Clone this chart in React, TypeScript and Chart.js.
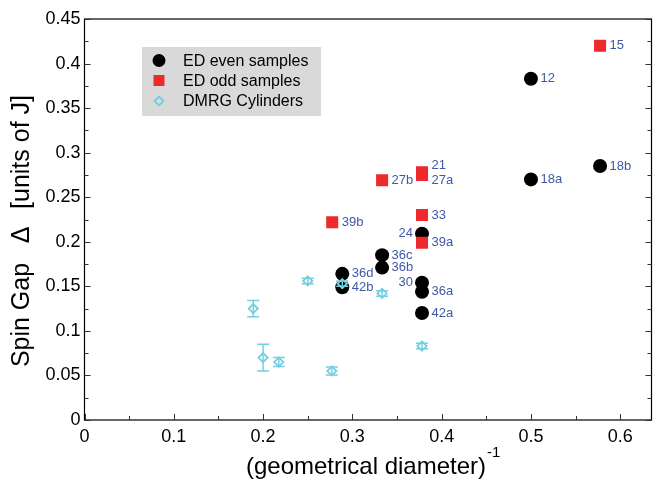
import React, { useEffect, useRef } from "react";
import { Chart, registerables } from "chart.js";

Chart.register(...registerables);

// ---- data ----
const evenLabels = ["12", "18a", "18b", "24", "30", "36a", "42a", "36c", "36b", "36d", "42b"];
const evenX = [0.5, 0.5, 0.5774, 0.378, 0.378, 0.378, 0.378, 0.3333, 0.3333, 0.2887, 0.2887];
const evenY = [0.383, 0.27, 0.285, 0.209, 0.154, 0.144, 0.12, 0.185, 0.171, 0.164, 0.149];

const oddLabels = ["15", "21", "27a", "27b", "39b", "33", "39a"];
const oddX = [0.5774, 0.378, 0.378, 0.3333, 0.2774, 0.378, 0.378];
const oddY = [0.42, 0.278, 0.275, 0.269, 0.222, 0.23, 0.199];

const dmrgX = [0.189, 0.2, 0.2176, 0.25, 0.277, 0.2887, 0.3333, 0.378];
const dmrgY = [0.125, 0.07, 0.065, 0.156, 0.055, 0.153, 0.142, 0.083];
const dmrgErr = [0.009, 0.015, 0.005, 0.003, 0.0045, 0.003, 0.003, 0.003];

const seriesNames = ["ED even samples", "ED odd samples", "DMRG Cylinders"];

const xTickValues = [0, 0.1, 0.2, 0.3, 0.4, 0.5, 0.6];
const yTickValues = [0, 0.05, 0.1, 0.15, 0.2, 0.25, 0.3, 0.35, 0.4, 0.45];

// label placement: which labels sit left of point / shifted vertically
const labelLeft = ["24", "30"];
const labelShift: Record<string, number> = { "21": -7, "27a": 5 };

const BLACK = "#000000";
const RED = "#ee2a2d";
const CYAN = "#74cfe0";
const LABEL_BLUE = "#4058a8";
const FONT = "'Liberation Sans', Arial, Helvetica, sans-serif";

const pts = (xs: number[], ys: number[]) => xs.map((x, i) => ({ x, y: ys[i] }));

const decorPlugin = {
  id: "decor",
  afterDatasetsDraw(chart: any) {
    const ctx = chart.ctx;
    const xs = chart.scales.x;
    const ys = chart.scales.y;
    // error bars
    ctx.save();
    ctx.strokeStyle = CYAN;
    ctx.lineWidth = 1.5;
    dmrgX.forEach((x, i) => {
      const px = xs.getPixelForValue(x);
      const top = ys.getPixelForValue(dmrgY[i] + dmrgErr[i]);
      const bot = ys.getPixelForValue(dmrgY[i] - dmrgErr[i]);
      ctx.beginPath();
      ctx.moveTo(px, top);
      ctx.lineTo(px, bot);
      ctx.moveTo(px - 6, top);
      ctx.lineTo(px + 6, top);
      ctx.moveTo(px - 6, bot);
      ctx.lineTo(px + 6, bot);
      ctx.stroke();
    });
    ctx.restore();

    // point labels
    ctx.save();
    ctx.font = `13px ${FONT}`;
    ctx.fillStyle = LABEL_BLUE;
    ctx.textBaseline = "middle";
    const drawLabels = (labels: string[], xv: number[], yv: number[]) => {
      labels.forEach((lab, i) => {
        const px = xs.getPixelForValue(xv[i]);
        const py = ys.getPixelForValue(yv[i]) + (labelShift[lab] || 0);
        if (labelLeft.includes(lab)) {
          ctx.textAlign = "right";
          ctx.fillText(lab, px - 9, py);
        } else {
          ctx.textAlign = "left";
          ctx.fillText(lab, px + 9.5, py);
        }
      });
    };
    drawLabels(evenLabels, evenX, evenY);
    drawLabels(oddLabels, oddX, oddY);
    ctx.restore();
  },
  afterDraw(chart: any) {
    const ctx = chart.ctx;
    const a = chart.chartArea;
    const xs = chart.scales.x;
    const ys = chart.scales.y;
    ctx.save();
    // frame
    ctx.strokeStyle = "#000";
    ctx.lineWidth = 1.2;
    ctx.strokeRect(a.left, a.top, a.right - a.left, a.bottom - a.top);
    // ticks
    ctx.lineWidth = 1;
    ctx.strokeStyle = "#333";
    ctx.beginPath();
    for (let v = 0; v <= 0.6 + 1e-9; v += 0.05) {
      const major = Math.abs(v * 10 - Math.round(v * 10)) < 1e-6;
      const len = major ? 6 : 4;
      const px = Math.round(xs.getPixelForValue(v)) + 0.5;
      ctx.moveTo(px, a.bottom);
      ctx.lineTo(px, a.bottom - len);
    }
    for (let v = 0; v <= 0.45 + 1e-9; v += 0.025) {
      const major = Math.abs(v * 20 - Math.round(v * 20)) < 1e-6;
      const len = major ? 6 : 4;
      const py = Math.round(ys.getPixelForValue(v)) + 0.5;
      ctx.moveTo(a.left, py);
      ctx.lineTo(a.left + len, py);
      ctx.moveTo(a.right, py);
      ctx.lineTo(a.right - len, py);
    }
    ctx.stroke();

    // axis titles
    ctx.fillStyle = "#000";
    ctx.font = `24px ${FONT}`;
    ctx.textBaseline = "middle";
    const xt = "(geometrical diameter)";
    const w = ctx.measureText(xt).width;
    const cx = 366;
    ctx.textAlign = "left";
    ctx.fillText(xt, cx - w / 2, 467);
    ctx.font = `15px ${FONT}`;
    ctx.fillText("-1", cx + w / 2 + 1, 453);

    ctx.save();
    ctx.translate(22, 0);
    ctx.rotate(-Math.PI / 2);
    ctx.font = `25px ${FONT}`;
    ctx.textAlign = "center";
    // rotated: text x = -pageY
    ctx.fillText("Spin Gap", -315, 0);
    ctx.fillText("\u0394", -235, 0);
    ctx.fillText("[units of J]", -152, 0);
    ctx.restore();

    // legend
    const lx = 142, ly = 47, lw = 179, lh = 69;
    ctx.fillStyle = "#d9d9d9";
    ctx.fillRect(lx, ly, lw, lh);
    const rows = [60.5, 80.5, 101];
    ctx.font = `16px ${FONT}`;
    ctx.textAlign = "left";
    ctx.textBaseline = "middle";
    seriesNames.forEach((name, i) => {
      const my = rows[i];
      const mx = 159;
      if (i === 0) {
        ctx.fillStyle = BLACK;
        ctx.beginPath();
        ctx.arc(mx, my, 6.5, 0, Math.PI * 2);
        ctx.fill();
      } else if (i === 1) {
        ctx.fillStyle = RED;
        ctx.fillRect(mx - 5.5, my - 5.5, 11, 11);
      } else {
        ctx.strokeStyle = CYAN;
        ctx.lineWidth = 1.8;
        ctx.beginPath();
        ctx.moveTo(mx - 4.5, my);
        ctx.lineTo(mx, my - 4.5);
        ctx.lineTo(mx + 4.5, my);
        ctx.lineTo(mx, my + 4.5);
        ctx.closePath();
        ctx.stroke();
      }
      ctx.fillStyle = "#000";
      ctx.fillText(name, 183, my + 1);
    });
    ctx.restore();
  },
};

export default function App() {
  const ref = useRef<HTMLCanvasElement | null>(null);
  useEffect(() => {
    document.body.style.margin = "0";
    const canvas = ref.current!;
    const chart = new Chart(canvas, {
      type: "scatter",
      data: {
        datasets: [
          {
            label: seriesNames[2],
            data: pts(dmrgX, dmrgY),
            pointStyle: "rectRot",
            pointRadius: 4.6,
            pointBorderWidth: 1.8,
            borderColor: CYAN,
            backgroundColor: "rgba(0,0,0,0)",
            order: 0,
          },
          {
            label: seriesNames[1],
            data: pts(oddX, oddY),
            pointStyle: "rect",
            pointRadius: 8.5,
            pointBorderWidth: 0,
            borderColor: RED,
            backgroundColor: RED,
            order: 1,
          },
          {
            label: seriesNames[0],
            data: pts(evenX, evenY),
            pointStyle: "circle",
            pointRadius: 7,
            pointBorderWidth: 0,
            borderColor: BLACK,
            backgroundColor: BLACK,
            order: 2,
          },
        ],
      },
      options: {
        responsive: false,
        animation: false,
        events: [],
        layout: { padding: { left: 0, right: 3, top: 19, bottom: 0 } },
        plugins: { legend: { display: false }, tooltip: { enabled: false }, title: { display: false } },
        scales: {
          x: {
            type: "linear",
            min: 0,
            max: 0.635,
            afterBuildTicks: (s: any) => {
              s.ticks = xTickValues.map((v) => ({ value: v }));
            },
            afterFit: (s: any) => {
              s.height = 59;
            },
            grid: { display: false, drawTicks: false },
            border: { display: false },
            ticks: {
              color: "#000",
              font: { size: 18, family: FONT },
              padding: 6,
              maxRotation: 0,
              callback: (v: any) => String(+Number(v).toFixed(3)),
            },
          },
          y: {
            type: "linear",
            min: 0,
            max: 0.45,
            afterBuildTicks: (s: any) => {
              s.ticks = yTickValues.map((v) => ({ value: v }));
            },
            afterFit: (s: any) => {
              s.width = 84.5;
            },
            grid: { display: false, drawTicks: false },
            border: { display: false },
            ticks: {
              color: "#000",
              font: { size: 18, family: FONT },
              padding: 4,
              callback: (v: any) => String(+Number(v).toFixed(3)),
            },
          },
        },
      },
      plugins: [decorPlugin],
    });
    return () => chart.destroy();
  }, []);
  return (
    <div style={{ width: 660, height: 479, background: "#fff" }}>
      <canvas ref={ref} width={660} height={479} style={{ display: "block" }} />
    </div>
  );
}
